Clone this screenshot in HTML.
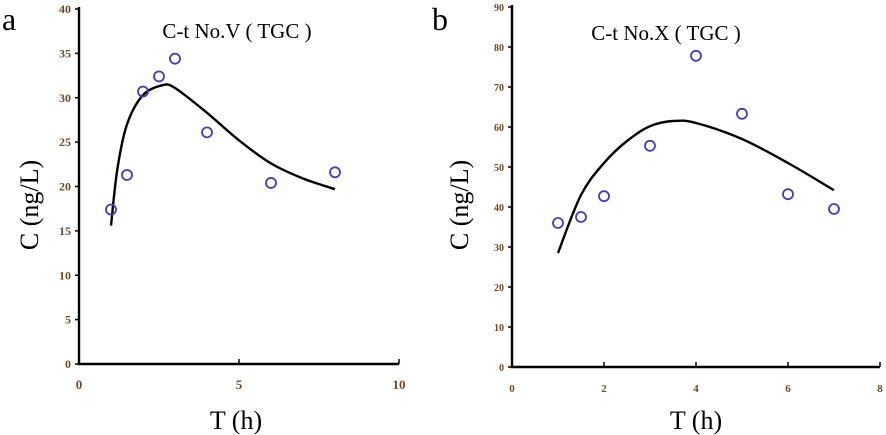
<!DOCTYPE html>
<html><head><meta charset="utf-8"><style>
body{margin:0;background:#fff}
svg{display:block}
text{font-family:"Liberation Serif",serif}
.tk{font-weight:bold;fill:#6b4a2a}
</style></head><body>
<svg id="s" width="886" height="435">
<text x="2" y="30" font-size="32">a</text>
<text x="432" y="30" font-size="32">b</text>
<text x="237" y="38" font-size="21" text-anchor="middle">C-t  No.V ( TGC )</text>
<text x="666" y="40" font-size="21" text-anchor="middle">C-t  No.X ( TGC )</text>
<text transform="translate(38,205) rotate(-90)" font-size="26" text-anchor="middle">C (ng/L)</text>
<text transform="translate(468,205) rotate(-90)" font-size="26" text-anchor="middle">C (ng/L)</text>
<text x="236" y="429" font-size="26" text-anchor="middle">T (h)</text>
<text x="696" y="429" font-size="26" text-anchor="middle">T (h)</text>
</svg>
<script>
const aXTicks=[0,5,10];
const aYTicks=[0,5,10,15,20,25,30,35,40];
const aPtX=[1,1.5,2,2.5,3,4,6,8];
const aPtY=[17.4,21.3,30.7,32.4,34.4,26.1,20.4,21.6];
const aFitX=[1,1.2,1.5,2,2.6,3,4,5,6,7,8];
const aFitY=[15.6,22,27,30.3,31.4,31.1,28.3,25.2,22.6,20.9,19.7];
const bXTicks=[0,2,4,6,8];
const bYTicks=[0,10,20,30,40,50,60,70,80,90];
const bPtX=[1,1.5,2,3,4,5,6,7];
const bPtY=[36,37.5,42.7,55.3,77.8,63.3,43.2,39.5];
const bFitX=[1,1.5,2,2.5,3,3.5,4,5,6,7];
const bFitY=[28.5,43,51,56.5,60.2,61.5,61,57,51,44.2];
const NS="http://www.w3.org/2000/svg";
const svg=document.getElementById('s');
function mk(t,a){const e=document.createElementNS(NS,t);for(const k in a)e.setAttribute(k,a[k]);svg.appendChild(e);return e;}
function smooth(P){
 let d='M'+P[0][0].toFixed(1)+','+P[0][1].toFixed(1);
 for(let i=0;i<P.length-1;i++){
  const p0=P[i-1]||P[i],p1=P[i],p2=P[i+1],p3=P[i+2]||P[i+1];
  const c1=[p1[0]+(p2[0]-p0[0])/6,p1[1]+(p2[1]-p0[1])/6];
  const c2=[p2[0]-(p3[0]-p1[0])/6,p2[1]-(p3[1]-p1[1])/6];
  d+=`C${c1[0].toFixed(1)},${c1[1].toFixed(1)} ${c2[0].toFixed(1)},${c2[1].toFixed(1)} ${p2[0].toFixed(1)},${p2[1].toFixed(1)}`;
 }
 return d;
}
function panel(p,x0,x1,y0,y1,xmax,ymax,xt,yt,px,py,fx,fy,fs){
 const sx=v=>x0+(x1-x0)*v/xmax, sy=v=>y0-(y0-y1)*v/ymax;
 let e=mk('path',{d:`M${x0},${y1-2}V${y0}H${x1}`,stroke:'#000','stroke-width':2.4,fill:'none'});
 
 
 yt.forEach(v=>{
  let l=mk('line',{x1:x0-4,x2:x0,y1:sy(v),y2:sy(v),stroke:'#000','stroke-width':1.5});
  
  
  let t=mk('text',{x:x0-8,y:sy(v)+4,'text-anchor':'end',class:'tk','font-size':fs});t.textContent=v;
  
  
 });
 xt.forEach(v=>{
  if(v>0){let l=mk('line',{x1:sx(v),x2:sx(v),y1:y0,y2:y0-5,stroke:'#000','stroke-width':1.5});
  
  }
  let t=mk('text',{x:sx(v),y:y0+25,'text-anchor':'middle',class:'tk','font-size':fs+1});t.textContent=v;
  
  
 });
 let c=mk('path',{d:smooth(fx.map((v,i)=>[sx(v),sy(fy[i])])),stroke:'#000','stroke-width':2.4,fill:'none','stroke-linejoin':'round'});
 
 
 px.forEach((v,i)=>{
  let o=mk('circle',{cx:sx(v),cy:sy(py[i]),r:5,fill:'none',stroke:'#4040b0','stroke-width':1.8});
  
  
 });
}
panel('a',79,399,364,9,10,40,aXTicks,aYTicks,aPtX,aPtY,aFitX,aFitY,12);
panel('b',512,880,367,7,8,90,bXTicks,bYTicks,bPtX,bPtY,bFitX,bFitY,10);
</script>
</body></html>
